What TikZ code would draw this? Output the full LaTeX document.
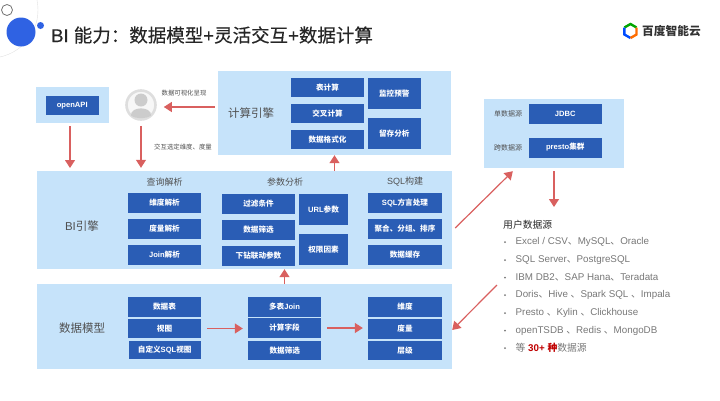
\documentclass[tikz,border=0pt]{standalone}
\usepackage{fontspec}
\setmainfont{Liberation Sans}
\newfontfamily\cjk{Noto Sans CJK SC}
\newfontfamily\cjktitle[FakeBold=0.35]{Noto Sans CJK SC}
\newfontfamily\lattitle[FakeBold=0.35]{Liberation Sans}
\newcommand{\zh}[1]{{\cjk #1}}
\usetikzlibrary{arrows.meta}
\definecolor{panelblue}{HTML}{C6E3FA}
\definecolor{cellblue}{HTML}{2A5DB5}
\definecolor{flowred}{HTML}{D9605F}
\definecolor{inkgray}{HTML}{505050}
\definecolor{listgray}{HTML}{777777}
\definecolor{dotblue}{HTML}{2F62E3}
\tikzset{
  panel/.style={fill=panelblue,inner sep=0pt},
  cell/.style={fill=cellblue,text=white,inner sep=0pt,font=\fontsize{7.6}{9}\selectfont\bfseries},
  panellabel/.style={inner sep=0pt,text=inkgray,font=\fontsize{11.5}{13}\selectfont},
  coltitle/.style={inner sep=0pt,text=inkgray,font=\fontsize{9}{11}\selectfont},
  smalllabel/.style={inner sep=0pt,text=inkgray,font=\fontsize{6.4}{8}\selectfont},
  listitem/.style={inner sep=0pt,anchor=west,text=listgray,font=\fontsize{9.8}{12}\selectfont},
  listdot/.style={circle,fill=listgray,inner sep=0pt,minimum size=2pt},
  flow/.style={draw=flowred,line width=1.2pt,-{Triangle[length=8pt,width=10pt]}}
}
\begin{document}
\begin{tikzpicture}[x=1pt,y=1pt]
\useasboundingbox (0,0) rectangle (720,-400);
% corner dots and title
\draw [black!12] (-10,-10) circle (48);
\fill [dotblue] (21,-32) circle (14.5);
\fill [dotblue] (40.5,-25.5) circle (3.5);
\draw [black!55,line width=0.8pt,fill=white] (7,-10) circle (5.5);
\node (title) [anchor=west,inner sep=0pt,text=black!85,font=\fontsize{18.5}{22}\selectfont] at (51,-35) {\lattitle BI {\cjktitle 能力：数据模型}+{\cjktitle 灵活交互}+{\cjktitle 数据计算}};
% logo
\draw [green!65!black,line width=2.4pt] (624.4,-27.5) -- (630.5,-24) -- (636.5,-27.5);
\draw [blue!70!cyan,line width=2.4pt] (624.4,-27.5) -- (624.4,-34.5) -- (630.5,-38);
\draw [orange!85!red,line width=2.4pt] (636.5,-27.5) -- (636.5,-34.5) -- (630.5,-38);
\node (logo) [anchor=west,inner sep=0pt,font=\fontsize{11.7}{14}\selectfont\bfseries,text=black!80] at (642,-31.5) {\zh{百度智能云}};
% panels
\node (apipanel) [panel,minimum width=73,minimum height=36] at (72.5,-105) {};
\node (calcpanel) [panel,minimum width=233,minimum height=84] at (334.5,-113) {};
\node (bipanel) [panel,minimum width=415,minimum height=98] at (244.5,-220) {};
\node (modelpanel) [panel,minimum width=415,minimum height=85] at (244.5,-326.5) {};
\node (srcpanel) [panel,minimum width=140,minimum height=69] at (554,-133.5) {};
% person
\node (person) [circle,draw=black!13,line width=2.6pt,fill=black!3,minimum size=29,inner sep=0pt] at (141,-105) {};
\fill [black!20] (141,-100) circle (6.5);
\fill [black!20] (131,-115.5) .. controls (130,-106) and (152,-106) .. (151,-115.5) .. controls (147,-119) and (135,-119) .. (131,-115.5);
% top row
\node (openapi) [cell,minimum width=52.5,minimum height=19] at (72.25,-105.5) {openAPI};
\node (vislabel) [smalllabel] at (184,-93) {\zh{数据可视化呈现}};
\node (picklabel) [smalllabel] at (183,-147) {\zh{交互选定维度、度量}};
\node (calclabel) [panellabel] at (251,-113) {\zh{计算引擎}};
\node (calctable) [cell,minimum width=73,minimum height=19] at (327.5,-87.5) {\zh{表计算}};
\node (calccross) [cell,minimum width=73,minimum height=19] at (327.5,-113.5) {\zh{交叉计算}};
\node (calcformat) [cell,minimum width=73,minimum height=19] at (327.5,-139.5) {\zh{数据格式化}};
\node (calcalert) [cell,minimum width=52.5,minimum height=31] at (394.25,-93.5) {\zh{监控预警}};
\node (calcretain) [cell,minimum width=52.5,minimum height=31] at (394.25,-133.5) {\zh{留存分析}};
% sources
\node (singlelabel) [smalllabel,font=\fontsize{7}{9}\selectfont] at (508,-113.5) {\zh{单数据源}};
\node (crosslabel) [smalllabel,font=\fontsize{7}{9}\selectfont] at (508,-148) {\zh{跨数据源}};
\node (jdbc) [cell,minimum width=73.5,minimum height=20] at (565.25,-113.5) {JDBC};
\node (presto) [cell,minimum width=73.5,minimum height=20] at (565.25,-147.5) {presto\zh{集群}};
% BI engine
\node (bilabel) [panellabel] at (82,-226) {BI\zh{引擎}};
\node (querytitle) [coltitle] at (164.5,-182) {\zh{查询解析}};
\node (paramtitle) [coltitle] at (285,-182) {\zh{参数分析}};
\node (sqltitle) [coltitle] at (405,-182) {SQL\zh{构建}};
\node (querydim) [cell,minimum width=73,minimum height=20] at (164.5,-203) {\zh{维度解析}};
\node (querymeas) [cell,minimum width=73,minimum height=20] at (164.5,-229) {\zh{度量解析}};
\node (queryjoin) [cell,minimum width=73,minimum height=20] at (164.5,-255) {Join\zh{解析}};
\node (paramfilter) [cell,minimum width=73,minimum height=20] at (258.5,-204) {\zh{过滤条件}};
\node (paramselect) [cell,minimum width=73,minimum height=19.5] at (258.5,-229.75) {\zh{数据筛选}};
\node (paramdrill) [cell,minimum width=73,minimum height=19.5] at (258.5,-255.75) {\zh{下钻联动参数}};
\node (paramurl) [cell,minimum width=49,minimum height=31] at (323.5,-209.5) {URL\zh{参数}};
\node (paramauth) [cell,minimum width=49,minimum height=31] at (323.5,-249.5) {\zh{权限因素}};
\node (sqldialect) [cell,minimum width=74,minimum height=20] at (405,-203) {SQL\zh{方言处理}};
\node (sqlgroup) [cell,minimum width=74,minimum height=20] at (405,-229) {\zh{聚合、分组、排序}};
\node (sqlcache) [cell,minimum width=74,minimum height=20] at (405,-255) {\zh{数据缓存}};
% data model
\node (modellabel) [panellabel] at (82,-328) {\zh{数据模型}};
\node (tabletable) [cell,minimum width=73,minimum height=20] at (164.5,-307) {\zh{数据表}};
\node (tableview) [cell,minimum width=73,minimum height=19] at (164.5,-328.5) {\zh{视图}};
\node (tablesql) [cell,minimum width=72.5,minimum height=18] at (164.75,-350) {\zh{自定义}SQL\zh{视图}};
\node (joinmulti) [cell,minimum width=73,minimum height=20] at (284.5,-307) {\zh{多表}Join};
\node (joinfield) [cell,minimum width=73,minimum height=20] at (284.5,-328) {\zh{计算字段}};
\node (joinselect) [cell,minimum width=73,minimum height=19] at (284.75,-350.5) {\zh{数据筛选}};
\node (outdim) [cell,minimum width=74,minimum height=20] at (405,-307) {\zh{维度}};
\node (outmeas) [cell,minimum width=74,minimum height=20] at (405,-328.5) {\zh{度量}};
\node (outlevel) [cell,minimum width=74,minimum height=19] at (405,-350.5) {\zh{层级}};
% user data sources
\node (listhead) [listitem,text=black!85,font=\fontsize{9.8}{12}\selectfont] at (503,-225) {\zh{用户数据源}};
\node (dota) [listdot] at (505,-242) {};
\node (lista) [listitem] at (515.5,-242) {Excel / CSV\zh{、}MySQL\zh{、}Oracle};
\node (dotb) [listdot] at (505,-260) {};
\node (listb) [listitem] at (515.5,-260) {SQL Server\zh{、}PostgreSQL};
\node (dotc) [listdot] at (505,-277.5) {};
\node (listc) [listitem] at (515.5,-277.5) {IBM DB2\zh{、}SAP Hana\zh{、}Teradata};
\node (dotd) [listdot] at (505,-295) {};
\node (listd) [listitem] at (515.5,-295) {Doris\zh{、}Hive \zh{、}Spark SQL \zh{、}Impala};
\node (dote) [listdot] at (505,-313) {};
\node (liste) [listitem] at (515.5,-313) {Presto \zh{、}Kylin \zh{、}Clickhouse};
\node (dotf) [listdot] at (505,-330.5) {};
\node (listf) [listitem] at (515.5,-330.5) {openTSDB \zh{、}Redis \zh{、}MongoDB};
\node (dotg) [listdot] at (505,-348) {};
\node (listg) [listitem] at (515.5,-348) {\zh{等} \textcolor{red!75!black}{\bfseries 30+ \zh{种}}\zh{数据源}};
% connectors
\coordinate (apidrop) at (70,-168);
\coordinate (listin) at (554,-207);
\coordinate (listout) at (497,-285);
\draw [flow] (apipanel.south -| apidrop) ++(0,-3) -- (apidrop);
\draw [flow] ([yshift=-5]person.south) -- ([yshift=3]person.south |- bipanel.north);
\draw [flow] ([shift={(-3,6)}]calcpanel.west) -- ([shift={(7,-2)}]person.east);
\draw [flow] (calcpanel.south |- bipanel.north) -- (calcpanel.south);
\draw [flow] (joinfield |- modelpanel.north) -- (joinfield |- bipanel.south);
\draw [flow] ([xshift=6]tableview.east) -- ([xshift=-5,yshift=-0.5]joinfield.west);
\draw [flow] ([xshift=6]joinfield.east) -- ([xshift=-5,yshift=0.5]outmeas.west);
\draw [flow] ([shift={(3,-8)}]bipanel.east) -- ([shift={(29,-3)}]srcpanel.south west);
\draw [flow] ([yshift=-3]srcpanel.south) -- (listin);
\draw [flow] (listout) -- ([yshift=-3.5]modelpanel.east);
\end{tikzpicture}
\end{document}
